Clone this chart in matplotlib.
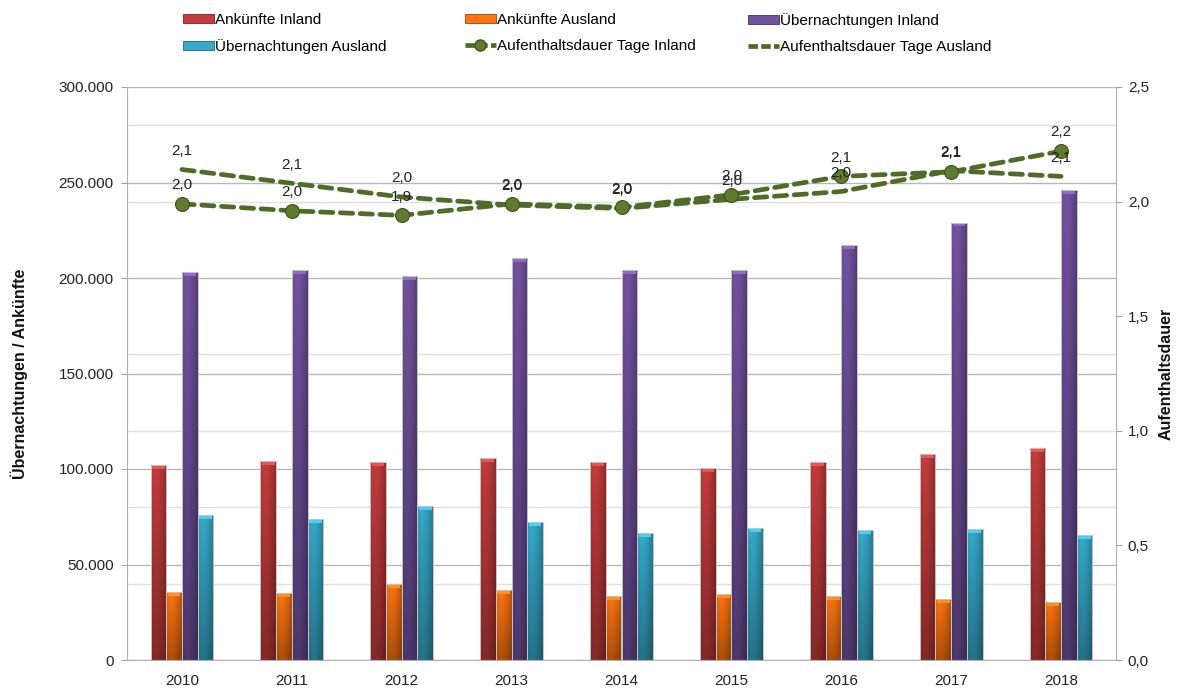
import numpy as np
import matplotlib
matplotlib.use('Agg')
import matplotlib.pyplot as plt
from matplotlib.colors import to_rgb
from matplotlib.ticker import FuncFormatter, MultipleLocator
from matplotlib.patches import Patch
from matplotlib.lines import Line2D

plt.rcParams['font.family'] = ['Liberation Sans', 'DejaVu Sans']

# ---------------- data ----------------
years = ['2010', '2011', '2012', '2013', '2014', '2015', '2016', '2017', '2018']
ankuenfte_inland = [102100, 104000, 103500, 105800, 103800, 100300, 103500, 107900, 110800]
ankuenfte_ausland = [35400, 35100, 39600, 36500, 33500, 34600, 33300, 31900, 30500]
uebernachtungen_inland = [203000, 204200, 201000, 210300, 204200, 204200, 217100, 229000, 245900]
uebernachtungen_ausland = [76000, 73600, 80400, 72100, 66500, 69200, 67900, 68500, 65200]
dauer_inland = [1.99, 1.96, 1.94, 1.99, 1.975, 2.03, 2.11, 2.13, 2.22]
dauer_ausland = [2.14, 2.08, 2.02, 1.985, 1.97, 2.01, 2.044, 2.135, 2.11]

series_names = ['Ankünfte Inland', 'Ankünfte Ausland', 'Übernachtungen Inland', 'Übernachtungen Ausland']
series_values = [ankuenfte_inland, ankuenfte_ausland, uebernachtungen_inland, uebernachtungen_ausland]
series_colors = ['#C43C3C', '#FF7410', '#7352A0', '#36AACA']
line_color = '#506A28'

# ---------------- figure ----------------
fig = plt.figure(figsize=(11.78, 6.89), dpi=100)
ax = fig.add_axes([127 / 1178, 29 / 689, 989 / 1178, 573 / 689])

x = np.arange(len(years))
w = 0.143


def shade(c, f):
    r, g, b = to_rgb(c)
    return (r * f, g * f, b * f)


for i, (name, vals, col) in enumerate(zip(series_names, series_values, series_colors)):
    bars = ax.bar(x + (i - 1.5) * w, vals, width=w, color=col, edgecolor='none',
                  zorder=2, label=name)
    base = np.array(to_rgb(col))
    ny, nx = 64, 16
    vy = np.linspace(1.0, 0.68, ny)[:, None]
    xx = np.linspace(-1, 1, nx)[None, :]
    vx = 1.0 - 0.16 * np.abs(xx - (-0.35)) ** 1.5
    fac = vy * vx
    img = np.clip(base[None, None, :] * fac[:, :, None], 0, 1)
    cap_col = tuple(np.clip(base * 1.1 + 0.07, 0, 1))
    for b in bars:
        bx, bw, bh = b.get_x(), b.get_width(), b.get_height()
        im = ax.imshow(img, extent=[bx, bx + bw, 0, bh], aspect='auto',
                       origin='upper', zorder=2.1, interpolation='bilinear')
        im.set_clip_path(b)
        # lighter bevel at bar top
        ax.bar(bx + bw / 2, 1700, width=bw * 0.8, bottom=bh - 2000,
               color=cap_col, edgecolor='none', zorder=2.3)
        ax.bar(bx + bw / 2, bh, width=bw, color='none',
               edgecolor='#c4c4c4', linewidth=0.7, zorder=2.4)

ax.set_xlim(-0.5, len(years) - 0.5)
ax.set_ylim(0, 300000)
ax.yaxis.set_major_locator(MultipleLocator(50000))
ax.yaxis.set_minor_locator(MultipleLocator(40000))
ax.yaxis.set_major_formatter(FuncFormatter(lambda v, p: f'{int(v):,}'.replace(',', '.')))
ax.grid(axis='y', which='major', color='#b8b8b8', linewidth=1.0, zorder=0)
ax.grid(axis='y', which='minor', color='#e0e0e0', linewidth=1.0, zorder=0)
ax.set_axisbelow(True)
ax.set_xticks(x)
ax.set_xticklabels(years)
ax.tick_params(axis='x', length=0, pad=10, labelsize=11, colors='#222222')
ax.tick_params(axis='y', which='major', length=4.5, width=0.8, color='#a0a0a0',
               pad=5, labelsize=11, labelcolor='#222222')
ax.tick_params(axis='y', which='minor', length=0)
for s in ['top', 'right']:
    ax.spines[s].set_visible(False)
ax.spines['left'].set_color('#b0b0b0')
ax.spines['bottom'].set_color('#b0b0b0')
ax.set_ylabel('Übernachtungen / Ankünfte', fontsize=11.5, fontweight='bold', color='#111111')
ax.yaxis.set_label_coords(-0.100, 0.5)

# ---------------- secondary axis ----------------
ax2 = ax.twinx()
ax2.set_ylim(0, 2.5)
ax2.yaxis.set_major_locator(MultipleLocator(0.5))
ax2.yaxis.set_major_formatter(FuncFormatter(lambda v, p: f'{v:.1f}'.replace('.', ',')))
ax2.tick_params(axis='y', length=4.5, width=0.8, color='#a0a0a0', pad=4,
                labelsize=11, labelcolor='#222222')
for s in ['top', 'left', 'bottom']:
    ax2.spines[s].set_visible(False)
ax2.spines['right'].set_color('#b0b0b0')
ax2.set_ylabel('Aufenthaltsdauer', fontsize=11.5, fontweight='bold', color='#111111')
ax2.yaxis.set_label_coords(1.043, 0.5)

l1, = ax2.plot(x, dauer_inland, color=line_color, linewidth=3.4, marker='o',
               markersize=10, markerfacecolor='#607A30', markeredgecolor='#3E5220',
               markeredgewidth=0.8, dash_capstyle='round', zorder=5,
               label='Aufenthaltsdauer Tage Inland')
l1.set_dashes([2.6, 1.6])
l2, = ax2.plot(x, dauer_ausland, color=line_color, linewidth=3.4,
               dash_capstyle='round', zorder=4, label='Aufenthaltsdauer Tage Ausland')
l2.set_dashes([2.6, 1.6])

for vals in (dauer_inland, dauer_ausland):
    for xi, v in zip(x, vals):
        ax2.annotate(f'{v:.1f}'.replace('.', ','), (xi, v), xytext=(0, 13.5),
                     textcoords='offset points', ha='center', va='center',
                     fontsize=11, color='#222222', zorder=6)

# ---------------- legend (three columns) ----------------
bar_handles = [Patch(facecolor=c, edgecolor=shade(c, 0.6), linewidth=0.6) for c in series_colors]
h_l1 = Line2D([], [], color=line_color, linewidth=3.4, marker='o', markersize=8,
              markerfacecolor='#607A30', markeredgecolor='#3E5220')
h_l1.set_dashes([2.0, 0.7])
h_l2 = Line2D([], [], color=line_color, linewidth=3.4)
h_l2.set_dashes([2.0, 0.7])

columns = [
    ([bar_handles[0], bar_handles[3]], [series_names[0], series_names[3]], 183),
    ([bar_handles[1], h_l1], [series_names[1], 'Aufenthaltsdauer Tage Inland'], 465),
    ([bar_handles[2], h_l2], [series_names[2], 'Aufenthaltsdauer Tage Ausland'], 748),
]
for hs, ls, px in columns:
    fig.legend(hs, ls, loc='upper left', bbox_to_anchor=(px / 1178, 1 - 13 / 689),
               frameon=False, fontsize=11, handlelength=2.0, handleheight=0.55,
               handletextpad=0.1, labelspacing=0.78, borderpad=0, borderaxespad=0,
               numpoints=1)

fig.savefig('out.png', dpi=100, facecolor='white')
